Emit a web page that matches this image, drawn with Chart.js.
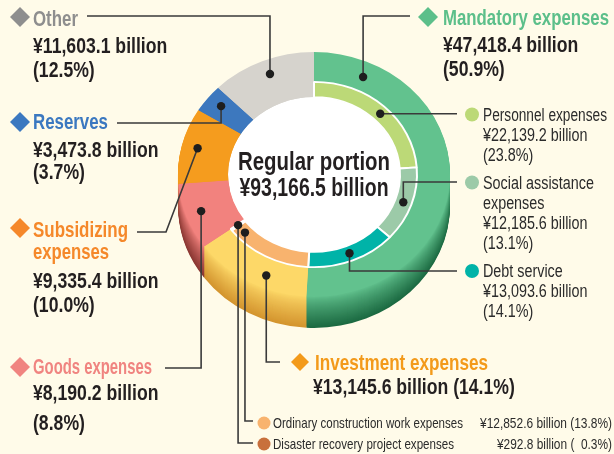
<!DOCTYPE html>
<html>
<head>
<meta charset="utf-8">
<script src="https://cdn.jsdelivr.net/npm/chart.js@4.4.0/dist/chart.umd.min.js"></script>
<style>
  html, body { margin: 0; padding: 0; background: #fffbe9; }
  canvas { display: block; }
</style>
</head>
<body>
<canvas id="budgetChart" width="614" height="454"></canvas>
<script>
// main spending categories (outer ring), in ¥ billion
var categories = ["Mandatory expenses", "Investment expenses", "Goods expenses", "Subsidizing expenses", "Reserves", "Other"];
var amounts = [47418.4, 13145.6, 8190.2, 9335.4, 3473.8, 11603.1];
var shares = [50.9, 14.1, 8.8, 10.0, 3.7, 12.5];

// breakdown of mandatory + investment expenses (inner ring)
var subCategories = ["Personnel expenses", "Social assistance expenses", "Debt service", "Ordinary construction work expenses", "Disaster recovery project expenses"];
var subAmounts = [22139.2, 12185.6, 13093.6, 12852.6, 292.8];
var subShares = [23.8, 13.1, 14.1, 13.8, 0.3];

var totalLabel = ["Regular portion", "¥93,166.5 billion"];

var outerColors = ['#62c28e', '#fdd868', '#f2827e', '#f59c1e', '#3d78be', '#d6d3cd'];
var sideColors  = ['#1c6a42', '#d4952f', '#8a3732', '#ad6810', '#1f4a80', '#99958e'];
var titleColors = ['#5cbf8a', '#f39a1a', '#f08480', '#f5882a', '#3b78c0', '#8e8e8e'];
var innerColors = ['#bcd977', '#9ccaa8', '#00b3a8', '#f8b36e', '#c8703c'];

var tilt = 0.9;     // vertical squash of the ring
var depth = 31;     // thickness of the ring side
var R = 136, hole = 86, band = 103;

function money(v) {
  return '¥' + v.toLocaleString('en-US', { minimumFractionDigits: 1, maximumFractionDigits: 1 }) + ' billion';
}
// pad keeps the percentages aligned: two spaces stand in for one digit
function pct(v, pad) {
  var s = v.toFixed(1);
  if (pad) for (var n = s.length; n < 4; n++) s = '  ' + s;
  return '(' + s + '%)';
}
function hex(c) {
  return [parseInt(c.substr(1, 2), 16), parseInt(c.substr(3, 2), 16), parseInt(c.substr(5, 2), 16)];
}
function mix(a, b, t) {
  var A = hex(a), B = hex(b);
  return 'rgb(' + A.map(function (v, i) { return Math.round(v + (B[i] - v) * t); }).join(',') + ')';
}

// condensed text: squeezed to width w when given, otherwise by a fixed factor
function text(ctx, str, x, y, size, weight, color, align, w) {
  ctx.save();
  ctx.font = weight + ' ' + size + 'px "Liberation Sans", Arial, sans-serif';
  ctx.fillStyle = color;
  ctx.textBaseline = 'alphabetic';
  ctx.textAlign = align || 'left';
  var sx = w ? w / ctx.measureText(str).width : 0.82;
  ctx.translate(x, y);
  ctx.scale(sx, 1);
  ctx.fillText(str, 0, 0);
  ctx.restore();
}
function diamond(ctx, x, y, r, color) {
  ctx.fillStyle = color;
  ctx.beginPath();
  ctx.moveTo(x, y - r); ctx.lineTo(x + r, y); ctx.lineTo(x, y + r); ctx.lineTo(x - r, y);
  ctx.closePath();
  ctx.fill();
}
function dot(ctx, x, y, r, color) {
  ctx.fillStyle = color;
  ctx.beginPath();
  ctx.arc(x, y, r, 0, Math.PI * 2);
  ctx.fill();
}

// point inside a segment: f = fraction along the arc, r = radius
function ringPoint(arc, f, r) {
  var a = arc.startAngle + f * (arc.endAngle - arc.startAngle);
  return { x: arc.x + r * Math.cos(a), y: arc.y + r * Math.sin(a) * tilt };
}

// leader lines: dataset, segment, position of the dot, then route to the label
var leaders = [
  { ds: 0, i: 5, f: 0.52, r: 120, steps: [['y', 16], ['x', 87]] },
  { ds: 0, i: 4, f: 0.56, r: 120, steps: [['y', 123], ['x', 117]] },
  { ds: 0, i: 3, f: 0.51, r: 120, steps: [['p', 166, 232], ['x', 137]] },
  { ds: 0, i: 2, f: 0.51, r: 120, steps: [['y', 368], ['x', 165]] },
  { ds: 0, i: 1, f: 0.39, r: 122, steps: [['y', 362], ['x', 280]] },
  { ds: 0, i: 0, f: 0.133, r: 119, steps: [['y', 16], ['x', 410]] },
  { ds: 1, i: 0, f: 0.52, r: 94.5, steps: [['x', 457]] },
  { ds: 1, i: 1, f: 0.5, r: 94.5, steps: [['y', 182], ['x', 457]] },
  { ds: 1, i: 2, f: 0.5, r: 94.5, steps: [['y', 271], ['x', 457]] },
  { ds: 1, i: 3, f: 0.88, r: 94.5, steps: [['y', 421], ['x', 253]] },
  { ds: 1, i: 4, f: 0.5, r: 94.5, steps: [['y', 443], ['x', 253]] }
];

var ringPlugin = {
  id: 'ring3d',
  beforeDatasetsDraw: function (chart) {
    var ctx = chart.ctx;
    var arcs = chart.getDatasetMeta(0).data;
    var cx = arcs[0].x, cy = arcs[0].y;
    ctx.save();
    ctx.translate(cx, cy);
    ctx.scale(1, tilt);
    ctx.translate(-cx, -cy);
    // side of the ring, darker towards the bottom edge
    for (var k = depth; k >= 1; k--) {
      var off = k / tilt;
      arcs.forEach(function (arc, i) {
        ctx.fillStyle = mix(outerColors[i], sideColors[i], Math.pow(k / depth, 0.8));
        ctx.beginPath();
        ctx.arc(arc.x, arc.y + off, arc.outerRadius, arc.startAngle, arc.endAngle);
        ctx.arc(arc.x, arc.y + off, arc.innerRadius, arc.endAngle, arc.startAngle, true);
        ctx.closePath();
        ctx.fill();
      });
    }
    ctx.fillStyle = '#ffffff';
    ctx.beginPath();
    ctx.arc(cx, cy, arcs[0].innerRadius, 0, Math.PI * 2);
    ctx.fill();
  },
  afterDatasetsDraw: function (chart) {
    var ctx = chart.ctx;
    ctx.restore();
    var cx = chart.getDatasetMeta(0).data[0].x;

    // centre caption
    text(ctx, totalLabel[0], cx, 170, 25, 'bold', '#231f20', 'center', 152);
    text(ctx, totalLabel[1], cx, 196, 25, 'bold', '#231f20', 'center', 149);

    // leader lines and dots
    ctx.strokeStyle = '#3a3a3a';
    ctx.lineWidth = 1.6;
    leaders.forEach(function (l) {
      var arc = chart.getDatasetMeta(l.ds).data[l.i];
      var p = ringPoint(arc, l.f, l.r);
      var x = p.x, y = p.y;
      ctx.beginPath();
      ctx.moveTo(x, y);
      l.steps.forEach(function (s) {
        if (s[0] === 'x') x = s[1];
        else if (s[0] === 'y') y = s[1];
        else { x = s[1]; y = s[2]; }
        ctx.lineTo(x, y);
      });
      ctx.stroke();
      dot(ctx, p.x, p.y, 4.2, '#1e1e1e');
    });

    // main category labels
    var main = [
      { i: 5, x: 33, d: [20, 17], ys: [26, 53, 77], w: [45] },
      { i: 4, x: 33, d: [20, 122], ys: [129, 157, 179], w: [75] },
      { i: 3, x: 33, d: [20, 228], ys: [237, 259, 288, 312], title: ['Subsidizing', 'expenses'], w: [95, 76] },
      { i: 2, x: 33, d: [20, 367], ys: [374, 400, 430], w: [119] },
      { i: 0, x: 443, d: [428, 17], ys: [25, 52, 76], w: [166] }
    ];
    main.forEach(function (m) {
      var title = m.title || [categories[m.i]];
      diamond(ctx, m.d[0], m.d[1], 10, titleColors[m.i]);
      title.forEach(function (t, j) { text(ctx, t, m.x, m.ys[j], 21.5, 'bold', titleColors[m.i], 'left', m.w[j]); });
      text(ctx, money(amounts[m.i]), m.x, m.ys[title.length], 21.5, 'bold', '#231f20');
      text(ctx, pct(shares[m.i]), m.x, m.ys[title.length + 1], 21.5, 'bold', '#231f20');
    });
    diamond(ctx, 300, 362, 9, titleColors[1]);
    text(ctx, categories[1], 315, 370, 21.5, 'bold', titleColors[1], 'left', 173);
    text(ctx, money(amounts[1]) + ' ' + pct(shares[1]), 313, 394, 21.5, 'bold', '#231f20');

    // breakdown labels on the right
    var side = [
      { i: 0, c: 114.5, ys: [121, 141, 161] },
      { i: 1, c: 182.5, ys: [189, 209, 229, 249], title: ['Social assistance', 'expenses'] },
      { i: 2, c: 271, ys: [277, 297, 317] }
    ];
    side.forEach(function (s) {
      var title = s.title || [subCategories[s.i]];
      dot(ctx, 472, s.c, 7, innerColors[s.i]);
      title.forEach(function (t, j) { text(ctx, t, 483, s.ys[j], 17.5, 'normal', '#2b2b2b', 'left', s.i === 0 ? 124 : 0); });
      text(ctx, money(subAmounts[s.i]), 483, s.ys[title.length], 17.5, 'normal', '#2b2b2b');
      text(ctx, pct(subShares[s.i]), 483, s.ys[title.length + 1], 17.5, 'normal', '#2b2b2b');
    });

    // breakdown labels at the bottom
    [[3, 423, 428, 190, 132], [4, 444, 449, 181, 115]].forEach(function (b) {
      dot(ctx, 264, b[1], 6.5, innerColors[b[0]]);
      text(ctx, subCategories[b[0]], 273, b[2], 15, 'normal', '#2b2b2b', 'left', b[3]);
      text(ctx, money(subAmounts[b[0]]) + ' ' + pct(subShares[b[0]], true), 612, b[2], 15, 'normal', '#2b2b2b', 'right', b[4]);
    });
  }
};

var ctx = document.getElementById('budgetChart').getContext('2d');
var budgetChart = new Chart(ctx, {
  type: 'doughnut',
  data: {
    labels: categories,
    datasets: [{
      data: amounts,
      backgroundColor: outerColors,
      borderWidth: 0,
      radius: '100%',
      cutout: ((2 * hole - R) / R * 100) + '%',
      order: 1
    }, {
      // only the first five slices are drawn; the rest leave the outer ring visible
      data: subAmounts.concat(amounts.slice(2)),
      backgroundColor: innerColors.concat(['rgba(0,0,0,0)', 'rgba(0,0,0,0)', 'rgba(0,0,0,0)', 'rgba(0,0,0,0)']),
      borderColor: '#ffffff',
      borderWidth: [2, 2, 2, 2, 2, 0, 0, 0, 0],
      radius: ((2 * band - hole) / R * 100) + '%',
      cutout: (hole / (2 * band - hole) * 100) + '%',
      order: 0
    }]
  },
  options: {
    responsive: false,
    animation: false,
    events: [],
    layout: { padding: { left: 178, right: 164, top: 38.5, bottom: 143.5 } },
    plugins: {
      legend: { display: false },
      tooltip: { enabled: false }
    }
  },
  plugins: [ringPlugin]
});
</script>
</body>
</html>
